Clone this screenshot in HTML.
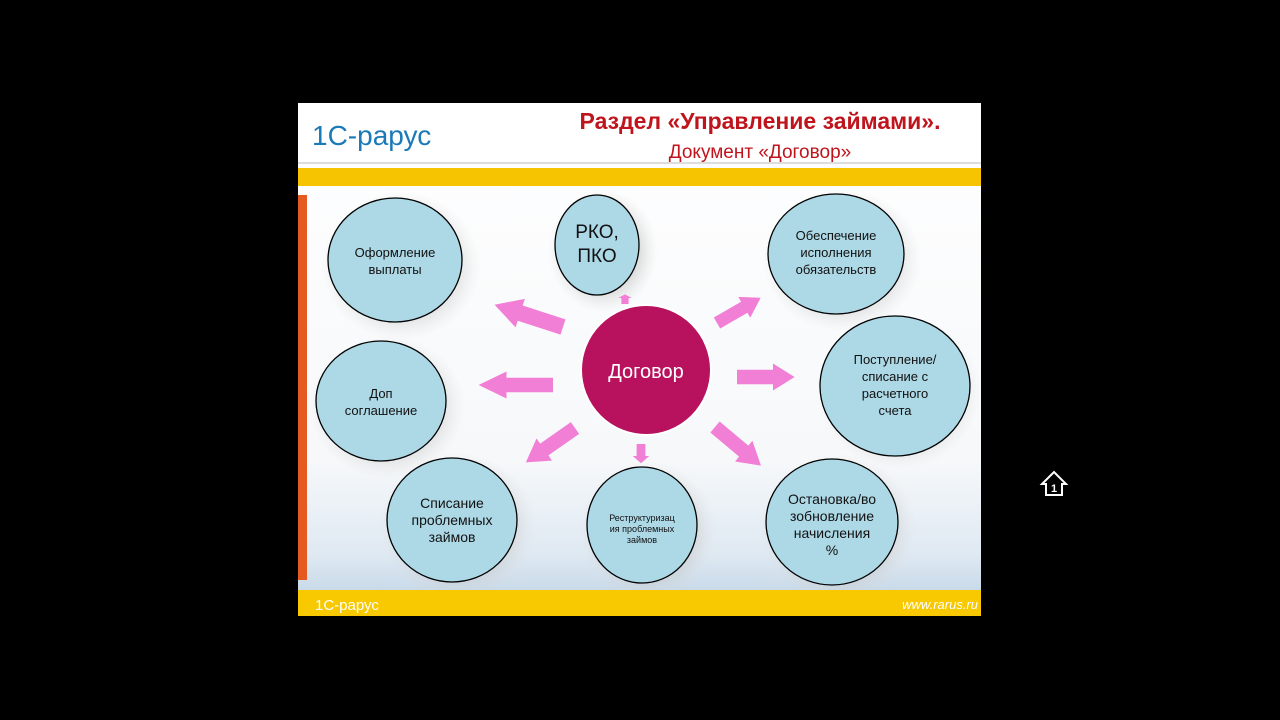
<!DOCTYPE html>
<html><head><meta charset="utf-8"><style>
body{margin:0;background:#000;width:1280px;height:720px;overflow:hidden}
svg{position:absolute;left:0;top:0}
text{font-family:"Liberation Sans","DejaVu Sans",sans-serif}
</style></head><body>
<svg width="1280" height="720" viewBox="0 0 1280 720">
<defs>
<linearGradient id="sky" x1="0" y1="0" x2="0" y2="1">
<stop offset="0" stop-color="#ffffff"/><stop offset="0.7" stop-color="#f6f8fa"/><stop offset="0.88" stop-color="#dfe9f2"/><stop offset="1" stop-color="#b9cfe2"/></linearGradient>
<radialGradient id="sh"><stop offset="0.6" stop-color="#bbb" stop-opacity="0.6"/><stop offset="1" stop-color="#ddd" stop-opacity="0"/></radialGradient>
<clipPath id="cp"><rect x="298" y="103" width="683" height="513"/></clipPath>
<g id="arr"><polygon points="0,-8 30,-8 30,-15 48,0 30,15 30,8 0,8" fill="#f27fd6"/></g>
</defs>
<rect x="298" y="103" width="683" height="513" fill="url(#sky)"/>
<rect x="298" y="103" width="683" height="60" fill="#fff"/>
<line x1="298" y1="163" x2="981" y2="163" stroke="#ddd" stroke-width="2"/>
<rect x="298" y="168" width="683" height="18" fill="#f6c400"/>
<rect x="298" y="195" width="9" height="385" fill="#e45a20"/>
<g clip-path="url(#cp)" fill="url(#sh)">
<ellipse cx="401" cy="266" rx="80" ry="75"/><ellipse cx="603" cy="251" rx="55" ry="62"/><ellipse cx="842" cy="260" rx="80" ry="72"/>
<ellipse cx="387" cy="407" rx="78" ry="72"/><ellipse cx="899" cy="392" rx="82" ry="78"/><ellipse cx="458" cy="526" rx="78" ry="74"/>
<ellipse cx="648" cy="531" rx="68" ry="70"/><ellipse cx="838" cy="528" rx="78" ry="75"/></g>
<rect x="298" y="590" width="683" height="26" fill="#f8c800"/>
<text x="312" y="145" font-size="28" fill="#1a7ab8">1С-рарус</text>
<text x="760" y="129" font-size="23" font-weight="bold" fill="#c0141c" text-anchor="middle">Раздел «Управление займами».</text>
<text x="760" y="158" font-size="19" fill="#c0141c" text-anchor="middle">Документ  «Договор»</text>
<text x="315" y="610" font-size="15" fill="#fff">1С-рарус</text>
<text x="978" y="609" font-size="13" fill="#fff" font-style="italic" text-anchor="end">www.rarus.ru</text>
<g fill="#add8e6" stroke="#000" stroke-width="1.3">
<ellipse cx="395" cy="260" rx="67" ry="62"/><ellipse cx="597" cy="245" rx="42" ry="50"/><ellipse cx="836" cy="254" rx="68" ry="60"/>
<ellipse cx="381" cy="401" rx="65" ry="60"/><ellipse cx="895" cy="386" rx="75" ry="70"/><ellipse cx="452" cy="520" rx="65" ry="62"/>
<ellipse cx="642" cy="525" rx="55" ry="58"/><ellipse cx="832" cy="522" rx="66" ry="63"/></g>
<circle cx="646" cy="370" r="65" fill="#b8125e" stroke="#fff" stroke-width="2"/>
<text x="646" y="378" font-size="20" fill="#fff" text-anchor="middle">Договор</text>
<g font-size="13" fill="#111" text-anchor="middle">
<text x="395" y="257">Оформление</text><text x="395" y="274">выплаты</text>
<text x="597" y="238" font-size="19">РКО,</text><text x="597" y="262" font-size="19">ПКО</text>
<text x="836" y="240">Обеспечение</text><text x="836" y="257">исполнения</text><text x="836" y="274">обязательств</text>
<text x="381" y="398">Доп</text><text x="381" y="415">соглашение</text>
<text x="895" y="364">Поступление/</text><text x="895" y="381">списание с</text><text x="895" y="398">расчетного</text><text x="895" y="415">счета</text>
<text x="452" y="508" font-size="14">Списание</text><text x="452" y="525" font-size="14">проблемных</text><text x="452" y="542" font-size="14">займов</text>
<text x="642" y="521" font-size="9">Реструктуризац</text><text x="642" y="532" font-size="9">ия проблемных</text><text x="642" y="543" font-size="9">займов</text>
<text x="832" y="504" font-size="14">Остановка/во</text><text x="832" y="521" font-size="14">зобновление</text><text x="832" y="538" font-size="14">начисления</text><text x="832" y="555" font-size="14">%</text>
</g>
<use href="#arr" transform="translate(563,327) rotate(-162) scale(1.5,1)"/>
<use href="#arr" transform="translate(625,304) rotate(-90) scale(0.2,0.45)"/>
<use href="#arr" transform="translate(717,323) rotate(-30) scale(1.05,0.8)"/>
<use href="#arr" transform="translate(553,385) rotate(180) scale(1.55,0.9)"/>
<use href="#arr" transform="translate(737,377) rotate(0) scale(1.2,0.9)"/>
<use href="#arr" transform="translate(575,428) rotate(145) scale(1.25,0.9)"/>
<use href="#arr" transform="translate(641,444) rotate(90) scale(0.4,0.55)"/>
<use href="#arr" transform="translate(715,427) rotate(40) scale(1.25,0.9)"/>
<g fill="none" stroke="#fff" stroke-width="2"><polygon points="1042,484 1054,472 1066,484 1062,484 1062,495 1046,495 1046,484"/></g>
<text x="1054" y="492" font-size="11" fill="#fff" text-anchor="middle" font-weight="bold">1</text>
</svg>
</body></html>
